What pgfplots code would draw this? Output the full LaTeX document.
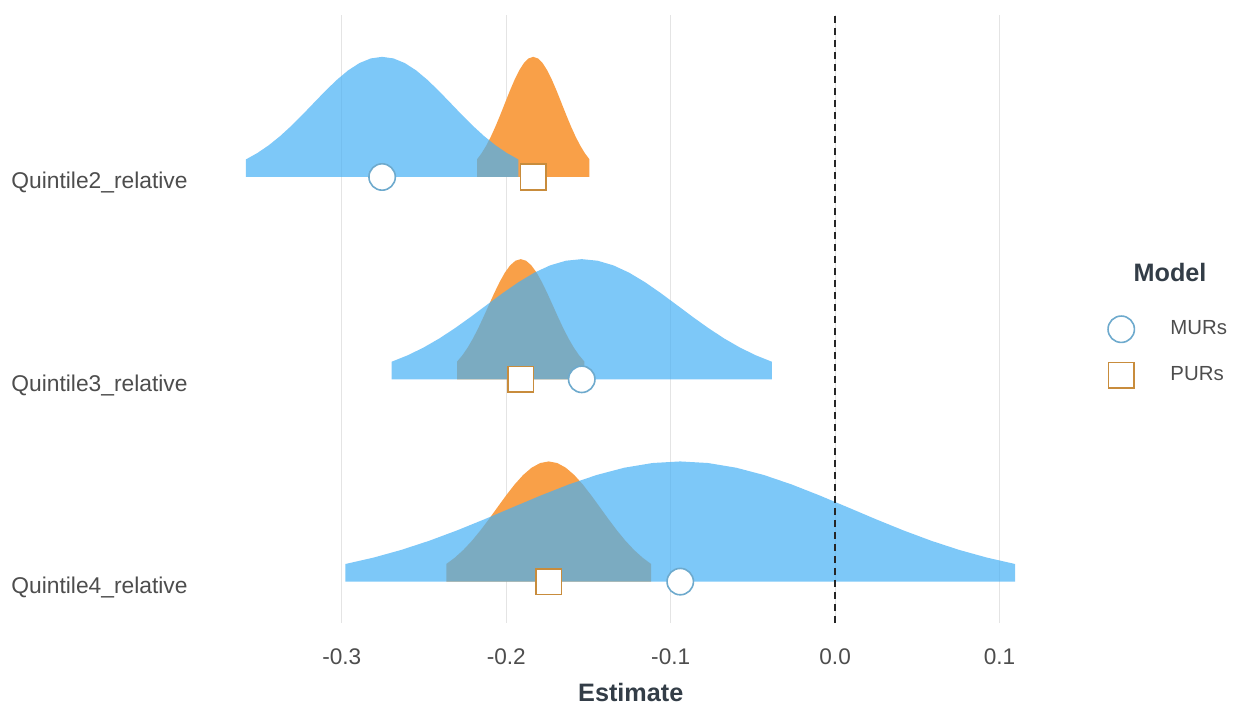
\documentclass[border=0pt]{standalone}
\usepackage{pgfplots}
\pgfplotsset{compat=1.18}
\usepackage{fontspec}
\setmainfont{Liberation Sans}

\definecolor{murfill}{RGB}{70,176,245}
\definecolor{purfill}{RGB}{249,160,72}
\definecolor{murline}{RGB}{110,170,205}
\definecolor{purline}{RGB}{200,140,60}
\definecolor{axtext}{RGB}{77,77,77}
\definecolor{titletext}{RGB}{51,61,71}
\definecolor{gridgrey}{RGB}{228,228,228}

\begin{document}
\begin{tikzpicture}
\path[use as bounding box] (-104pt,-43pt) rectangle (516pt,311.5pt);
\begin{axis}[
  at={(0pt,0pt)}, anchor=south west,
  scale only axis, width=422.75pt, height=304pt,
  xmin=-0.3814, xmax=0.1328, ymin=0.7953, ymax=3.8007,
  clip=false,
  axis line style={draw=none},
  tick style={draw=none},
  xmajorgrids, ymajorgrids=false,
  grid style={gridgrey, line width=0.6pt},
  xtick={-0.3,-0.2,-0.1,0,0.1},
  xticklabels={-0.3,-0.2,-0.1,0.0,0.1},
  ytick={1,2,3},
  yticklabels={Quintile4\_relative,Quintile3\_relative,Quintile2\_relative},
  xticklabel style={font=\fontsize{11.3}{13}\selectfont, text=axtext, anchor=base, inner sep=0pt, yshift=-20.5pt},
  yticklabel style={font=\fontsize{11.4}{13}\selectfont, text=axtext, anchor=base east, inner sep=0pt, xshift=-10pt, yshift=-6pt},
  xlabel={Estimate},
  xlabel style={font=\bfseries\fontsize{12.6}{15}\selectfont, text=titletext, at={(axis description cs:0.5,0)}, anchor=base, yshift=-39pt},
  legend style={at={(axis description cs:1.0645,0.5049)}, anchor=north west, draw=none, fill=none,
    inner sep=0pt, outer sep=0pt, row sep=10pt, column sep=18pt,
    font=\fontsize{10.2}{12}\selectfont, text=axtext, nodes={inner sep=0pt}},
  legend cell align=left,
  legend image code/.code={\draw[#1] plot coordinates {(0pt,0pt)};},
]

% PURs densities (drawn underneath)
\addplot[forget plot, fill=purfill, draw=none] coordinates {
(-0.2178,3) (-0.2178,3.0870) (-0.21495,3.1183) (-0.2121,3.1565) (-0.20925,3.2016) (-0.2064,3.2530) (-0.20355,3.3090) (-0.2007,3.3675) (-0.19785,3.4255) (-0.1950,3.4798) (-0.19215,3.5268) (-0.1893,3.5631) (-0.18645,3.5861) (-0.1836,3.5940) (-0.18075,3.5861) (-0.1779,3.5631) (-0.17505,3.5268) (-0.1722,3.4798) (-0.16935,3.4255) (-0.1665,3.3675) (-0.16365,3.3090) (-0.1608,3.2530) (-0.15795,3.2016) (-0.1551,3.1565) (-0.15225,3.1183) (-0.1494,3.0870) (-0.1494,3)
} -- cycle;
\addplot[forget plot, fill=purfill, draw=none] coordinates {
(-0.22996,2) (-0.22996,2.0870) (-0.22673,2.1183) (-0.2235,2.1565) (-0.22027,2.2016) (-0.21704,2.2530) (-0.21381,2.3090) (-0.21058,2.3675) (-0.20735,2.4255) (-0.20412,2.4798) (-0.20089,2.5268) (-0.19766,2.5631) (-0.19443,2.5861) (-0.1912,2.5940) (-0.18797,2.5861) (-0.18474,2.5631) (-0.18151,2.5268) (-0.17828,2.4798) (-0.17505,2.4255) (-0.17182,2.3675) (-0.16859,2.3090) (-0.16536,2.2530) (-0.16213,2.2016) (-0.1589,2.1565) (-0.15567,2.1183) (-0.15244,2.0870) (-0.15244,2)
} -- cycle;
\addplot[forget plot, fill=purfill, draw=none] coordinates {
(-0.23648,1) (-0.23648,1.0870) (-0.23129,1.1183) (-0.2261,1.1565) (-0.22091,1.2016) (-0.21572,1.2530) (-0.21053,1.3090) (-0.20534,1.3675) (-0.20015,1.4255) (-0.19496,1.4798) (-0.18977,1.5268) (-0.18458,1.5631) (-0.17939,1.5861) (-0.1742,1.5940) (-0.16901,1.5861) (-0.16382,1.5631) (-0.15863,1.5268) (-0.15344,1.4798) (-0.14825,1.4255) (-0.14306,1.3675) (-0.13787,1.3090) (-0.13268,1.2530) (-0.12749,1.2016) (-0.1223,1.1565) (-0.11711,1.1183) (-0.11192,1.0870) (-0.11192,1)
} -- cycle;

% MURs densities, semi-transparent on top
\addplot[forget plot, fill=murfill, fill opacity=0.7, draw=none] coordinates {
(-0.3583,3) (-0.3583,3.0870) (-0.3514,3.1183) (-0.3445,3.1565) (-0.3376,3.2016) (-0.3307,3.2530) (-0.3238,3.3090) (-0.3169,3.3675) (-0.3100,3.4255) (-0.3031,3.4798) (-0.2962,3.5268) (-0.2893,3.5631) (-0.2824,3.5861) (-0.2755,3.5940) (-0.2686,3.5861) (-0.2617,3.5631) (-0.2548,3.5268) (-0.2479,3.4798) (-0.2410,3.4255) (-0.2341,3.3675) (-0.2272,3.3090) (-0.2203,3.2530) (-0.2134,3.2016) (-0.2065,3.1565) (-0.1996,3.1183) (-0.1927,3.0870) (-0.1927,3)
} -- cycle;
\addplot[forget plot, fill=murfill, fill opacity=0.7, draw=none] coordinates {
(-0.26966,2) (-0.26966,2.0870) (-0.26003,2.1183) (-0.2504,2.1565) (-0.24077,2.2016) (-0.23114,2.2530) (-0.22151,2.3090) (-0.21188,2.3675) (-0.20225,2.4255) (-0.19262,2.4798) (-0.18299,2.5268) (-0.17336,2.5631) (-0.16373,2.5861) (-0.1541,2.5940) (-0.14447,2.5861) (-0.13484,2.5631) (-0.12521,2.5268) (-0.11558,2.4798) (-0.10595,2.4255) (-0.09632,2.3675) (-0.08669,2.3090) (-0.07706,2.2530) (-0.06743,2.2016) (-0.0578,2.1565) (-0.04817,2.1183) (-0.03854,2.0870) (-0.03854,2)
} -- cycle;
\addplot[forget plot, fill=murfill, fill opacity=0.7, draw=none] coordinates {
(-0.29784,1) (-0.29784,1.0870) (-0.28087,1.1183) (-0.2639,1.1565) (-0.24693,1.2016) (-0.22996,1.2530) (-0.21299,1.3090) (-0.19602,1.3675) (-0.17905,1.4255) (-0.16208,1.4798) (-0.14511,1.5268) (-0.12814,1.5631) (-0.11117,1.5861) (-0.0942,1.5940) (-0.07723,1.5861) (-0.06026,1.5631) (-0.04329,1.5268) (-0.02632,1.4798) (-0.00935,1.4255) (0.00762,1.3675) (0.02459,1.3090) (0.04156,1.2530) (0.05853,1.2016) (0.0755,1.1565) (0.09247,1.1183) (0.10944,1.0870) (0.10944,1)
} -- cycle;

% reference line at zero
\addplot[forget plot, black!85, line width=1pt, dash pattern=on 3.5pt off 2.5pt] coordinates {(0,0.7953) (0,3.8007)};

% point estimates
\addplot[only marks, mark=*, mark size=6.6pt, mark options={fill=white, draw=murline, line width=0.8pt}]
  coordinates {(-0.2755,3) (-0.1541,2) (-0.0942,1)};
\addlegendentry{MURs}
\addplot[only marks, mark=square*, mark size=6.4pt, mark options={fill=white, draw=purline, line width=0.8pt}]
  coordinates {(-0.1836,3) (-0.1912,2) (-0.1742,1)};
\addlegendentry{PURs}

\node[font=\bfseries\fontsize{12.6}{15}\selectfont, text=titletext, anchor=base] at (axis description cs:1.1378,0.5609) {Model};
\end{axis}
\end{tikzpicture}
\end{document}
